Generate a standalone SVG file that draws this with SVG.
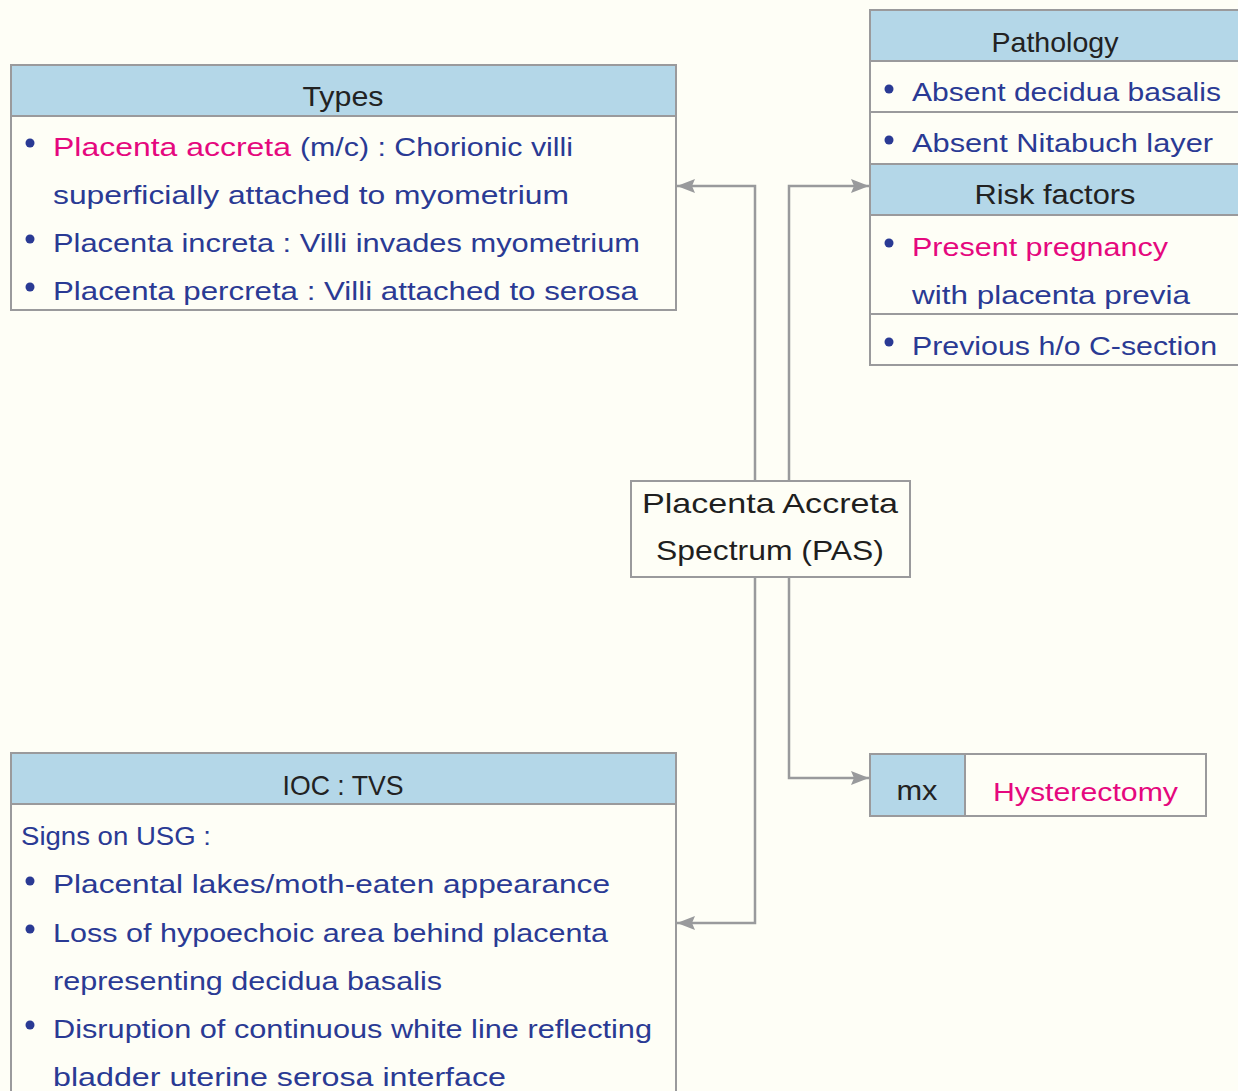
<svg xmlns="http://www.w3.org/2000/svg" width="1238" height="1091" viewBox="0 0 1238 1091">
<defs>
<marker id="arr" markerUnits="userSpaceOnUse" markerWidth="20" markerHeight="14" refX="18" refY="7" orient="auto">
<polygon points="0,0 18,7 0,14 3,7" fill="#999a9c"/>
</marker>
<style>
.bg{fill:#fefef6}
.box{fill:#fefef6;stroke:#9a9a9c;stroke-width:2}
.hdr{fill:#b4d7e8;stroke:#9a9a9c;stroke-width:2}
.t{font-family:"Liberation Sans",Arial,sans-serif;font-size:26px;fill:#2a3a94}
.p{fill:#e5087e}
.h{font-family:"Liberation Sans",Arial,sans-serif;font-size:28px;fill:#222;text-anchor:middle}
.c{font-family:"Liberation Sans",Arial,sans-serif;font-size:28px;fill:#1f1f1f;text-anchor:middle}
.dot{fill:#2a3a94}
.conn{fill:none;stroke:#999a9c;stroke-width:2.5;marker-end:url(#arr)}
</style>
</defs>
<rect class="bg" x="0" y="0" width="1238" height="1091"/>

<g id="types">
<rect class="box" x="11" y="65" width="665" height="245"/>
<rect class="hdr" x="11" y="65" width="665" height="51"/>
<text class="h" x="343" y="106" textLength="81" lengthAdjust="spacingAndGlyphs">Types</text>
<circle class="dot" cx="30" cy="143" r="4.5"/>
<text class="t p" x="53" y="156" textLength="238" lengthAdjust="spacingAndGlyphs">Placenta accreta</text>
<text class="t" x="300" y="156" textLength="273" lengthAdjust="spacingAndGlyphs">(m/c) : Chorionic villi</text>
<text class="t" x="53" y="204" textLength="516" lengthAdjust="spacingAndGlyphs">superficially attached to myometrium</text>
<circle class="dot" cx="30" cy="239" r="4.5"/>
<text class="t" x="53" y="252" textLength="587" lengthAdjust="spacingAndGlyphs">Placenta increta : Villi invades myometrium</text>
<circle class="dot" cx="30" cy="287" r="4.5"/>
<text class="t" x="53" y="300" textLength="585" lengthAdjust="spacingAndGlyphs">Placenta percreta : Villi attached to serosa</text>
</g>

<g id="pathology">
<rect class="box" x="870" y="10" width="372" height="355"/>
<rect class="hdr" x="870" y="10" width="372" height="51"/>
<text class="h" x="1055" y="52" textLength="127" lengthAdjust="spacingAndGlyphs">Pathology</text>
<circle class="dot" cx="889" cy="89" r="4.5"/>
<text class="t" x="912" y="101" textLength="309" lengthAdjust="spacingAndGlyphs">Absent decidua basalis</text>
<line x1="870" y1="112" x2="1242" y2="112" stroke="#9a9a9c" stroke-width="2"/>
<circle class="dot" cx="889" cy="140" r="4.5"/>
<text class="t" x="912" y="152" textLength="301" lengthAdjust="spacingAndGlyphs">Absent Nitabuch layer</text>
<rect class="hdr" x="870" y="164" width="372" height="51"/>
<text class="h" x="1055" y="204" textLength="161" lengthAdjust="spacingAndGlyphs">Risk factors</text>
<circle class="dot" cx="889" cy="243" r="4.5"/>
<text class="t p" x="912" y="256" textLength="256" lengthAdjust="spacingAndGlyphs">Present pregnancy</text>
<text class="t" x="912" y="304" textLength="278" lengthAdjust="spacingAndGlyphs">with placenta previa</text>
<line x1="870" y1="314" x2="1242" y2="314" stroke="#9a9a9c" stroke-width="2"/>
<circle class="dot" cx="889" cy="342" r="4.5"/>
<text class="t" x="912" y="355" textLength="305" lengthAdjust="spacingAndGlyphs">Previous h/o C-section</text>
</g>

<g id="center">
<rect class="box" x="631" y="481" width="279" height="96"/>
<text class="c" x="770" y="513" textLength="256" lengthAdjust="spacingAndGlyphs">Placenta Accreta</text>
<text class="c" x="770" y="560" textLength="228" lengthAdjust="spacingAndGlyphs">Spectrum (PAS)</text>
</g>

<g id="mx">
<rect class="box" x="870" y="754" width="336" height="62"/>
<rect class="hdr" x="870" y="754" width="95" height="62"/>
<text class="h" x="917" y="800" textLength="41" lengthAdjust="spacingAndGlyphs">mx</text>
<text class="t p" x="993" y="801" textLength="185" lengthAdjust="spacingAndGlyphs">Hysterectomy</text>
</g>

<g id="ioc">
<rect class="box" x="11" y="753" width="665" height="345"/>
<rect class="hdr" x="11" y="753" width="665" height="51"/>
<text class="h" x="343" y="795" textLength="121" lengthAdjust="spacingAndGlyphs">IOC : TVS</text>
<text class="t" x="21" y="845" textLength="190" lengthAdjust="spacingAndGlyphs">Signs on USG :</text>
<circle class="dot" cx="30" cy="881" r="4.5"/>
<text class="t" x="53" y="893" textLength="557" lengthAdjust="spacingAndGlyphs">Placental lakes/moth-eaten appearance</text>
<circle class="dot" cx="30" cy="929" r="4.5"/>
<text class="t" x="53" y="942" textLength="555" lengthAdjust="spacingAndGlyphs">Loss of hypoechoic area behind placenta</text>
<text class="t" x="53" y="990" textLength="389" lengthAdjust="spacingAndGlyphs">representing decidua basalis</text>
<circle class="dot" cx="30" cy="1025" r="4.5"/>
<text class="t" x="53" y="1038" textLength="599" lengthAdjust="spacingAndGlyphs">Disruption of continuous white line reflecting</text>
<text class="t" x="53" y="1086" textLength="453" lengthAdjust="spacingAndGlyphs">bladder uterine serosa interface</text>
</g>

<g id="connectors">
<path class="conn" d="M755,481 V186 H677"/>
<path class="conn" d="M789,481 V186 H869"/>
<path class="conn" d="M789,577 V778 H869"/>
<path class="conn" d="M755,577 V923 H677"/>
</g>
</svg>
